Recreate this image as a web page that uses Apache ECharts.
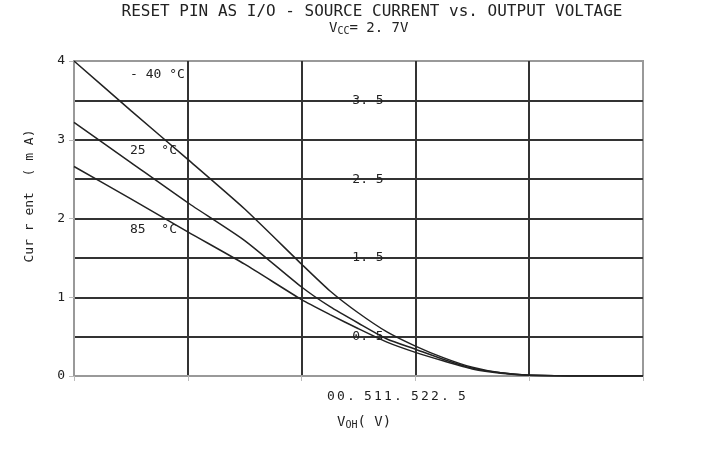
<!DOCTYPE html>
<html>
<head>
<meta charset="utf-8">
<script src="https://cdn.jsdelivr.net/npm/echarts@6/dist/echarts.min.js"></script>
<style>html,body{margin:0;padding:0;background:#fff}#c{width:720px;height:449px}</style>
</head>
<body>
<div id="c"></div>
<script>
const titleText = 'RESET PIN AS I/O - SOURCE CURRENT vs. OUTPUT VOLTAGE';
const xTicks = ['0', '0.5', '1', '1.5', '2', '2.5'];
const yTicks = ['0', '1', '2', '3', '4'];
const yHalfTicks = ['0.5', '1.5', '2.5', '3.5'];
const seriesNames = ['- 40 °C', '25  °C', '85  °C'];
const voltage = [0, 0.25, 0.5, 0.75, 1.0, 1.125, 1.25, 1.375, 1.5, 1.625, 1.75, 1.875, 2.0, 2.25, 2.5];
const currentM40 = [4.0, 3.37, 2.75, 2.12, 1.42, 1.08, 0.8, 0.56, 0.38, 0.23, 0.11, 0.04, 0.01, 0, 0];
const current25 = [3.22, 2.71, 2.2, 1.72, 1.13, 0.88, 0.67, 0.47, 0.34, 0.21, 0.1, 0.04, 0.01, 0, 0];
const current85 = [2.66, 2.25, 1.83, 1.42, 0.97, 0.78, 0.6, 0.43, 0.3, 0.19, 0.09, 0.035, 0.01, 0, 0];

const mono = '"DejaVu Sans Mono", "Liberation Mono", monospace';
const dark = '#333';
const frame = '#999';
const ink = '#222';

function pairs(ys) { return voltage.map((v, i) => [v, ys[i]]); }

// x tick labels squeezed together in one spaced string, as in the original
const xLabelChars = xTicks.join('').replace(/\./g, '. ').split('');
const xLabelRich = xLabelChars.map(ch => ch === ' ' ? '{g| }' : '{c|' + ch + '}').join('');

const chart = echarts.init(document.getElementById('c'), null, {renderer: 'canvas'});
const yMax = Number(yTicks[yTicks.length - 1]);
const xMax = Number(xTicks[xTicks.length - 1]);

chart.setOption({
  animation: false,
  backgroundColor: '#fff',
  grid: {left: 74, right: 77, top: 61, bottom: 73, show: true, borderColor: frame, borderWidth: 2, backgroundColor: 'transparent'},
  xAxis: {
    type: 'value', min: 0, max: xMax, interval: 0.5,
    axisLine: {show: true, lineStyle: {color: frame, width: 2}},
    axisTick: {show: true, length: 5, lineStyle: {color: '#bbb', width: 1}},
    axisLabel: {show: false},
    splitLine: {show: true, showMinLine: false, showMaxLine: false, lineStyle: {color: dark, width: 2}}
  },
  yAxis: [
    {
      type: 'value', min: 0, max: yMax, interval: 1,
      axisLine: {show: true, lineStyle: {color: frame, width: 2}},
      axisTick: {show: true, length: 5, lineStyle: {color: '#bbb', width: 1}},
      axisLabel: {show: true, margin: 9, color: ink, fontFamily: mono, fontSize: 13,
        formatter: v => yTicks.includes(String(v)) ? String(v) : ''},
      splitLine: {show: true, showMinLine: false, showMaxLine: false, lineStyle: {color: dark, width: 2}}
    },
    {
      type: 'value', min: 0, max: yMax, interval: 0.5, position: 'left', offset: -294,
      axisLine: {show: false}, axisTick: {show: false},
      axisLabel: {show: true, margin: 0, align: 'center', color: ink, fontFamily: mono, fontSize: 13,
        formatter: v => yHalfTicks.includes(String(v)) ? String(v).replace('.', '. ') : ''},
      splitLine: {show: true, showMinLine: false, showMaxLine: false, lineStyle: {color: dark, width: 2}}
    }
  ],
  series: [currentM40, current25, current85].map((d, i) => ({
    name: seriesNames[i], type: 'line', data: pairs(d), showSymbol: false, smooth: 0.2,
    lineStyle: {color: ink, width: 1.5}, z: 5
  })),
  graphic: [
    {type: 'text', x: 372, y: 12, style: {text: titleText, font: '16px ' + mono, fill: ink, align: 'center', verticalAlign: 'middle'}},
    {type: 'text', x: 329, y: 20, style: {
      text: '{b|V}{s|CC}{b|= 2. 7V}', fill: ink,
      rich: {b: {fontFamily: mono, fontSize: 14, fill: ink}, s: {fontFamily: mono, fontSize: 10, fill: ink, padding: [6, 0, 0, 0]}}
    }},
    {type: 'text', x: 130, y: 68, style: {text: seriesNames[0], font: '13px ' + mono, fill: ink}},
    {type: 'text', x: 130, y: 144, style: {text: seriesNames[1], font: '13px ' + mono, fill: ink}},
    {type: 'text', x: 130, y: 223, style: {text: seriesNames[2], font: '13px ' + mono, fill: ink}},
    {type: 'text', x: 326, y: 390, style: {
      text: xLabelRich, fill: ink,
      rich: {c: {fontFamily: mono, fontSize: 13, fill: ink, width: 10, align: 'center'},
             g: {fontFamily: mono, fontSize: 13, fill: ink, width: 7}}
    }},
    {type: 'text', x: 337, y: 414, style: {
      text: '{b|V}{s|OH}{b|( V)}', fill: ink,
      rich: {b: {fontFamily: mono, fontSize: 14, fill: ink}, s: {fontFamily: mono, fontSize: 10, fill: ink, padding: [6, 0, 0, 0]}}
    }},
    {type: 'text', x: 30, y: 196, rotation: Math.PI / 2, style: {text: 'Cur r ent  ( m A)', font: '13px ' + mono, fill: ink, align: 'center', verticalAlign: 'middle'}}
  ]
});
</script>
</body>
</html>
